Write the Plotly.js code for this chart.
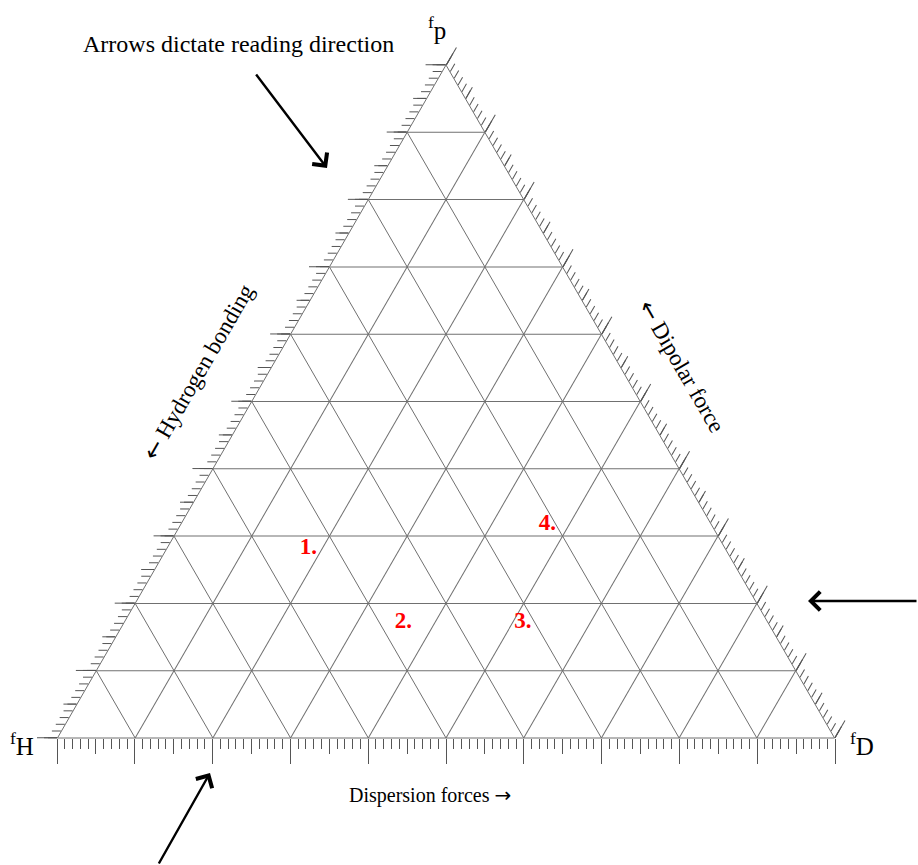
<!DOCTYPE html>
<html>
<head>
<meta charset="utf-8">
<script src="https://cdn.plot.ly/plotly-3.0.1.min.js"></script>
<style>
  html, body { margin: 0; padding: 0; background: #fff; }
  #chart { width: 918px; height: 865px; }
</style>
</head>
<body>
<div id="chart"></div>
<script>
// solvent positions on the Teas graph (percent)
const labels = ['1.', '2.', '3.', '4.'];
const fP = [28.2, 17.2, 17.2, 31.7];   // top corner
const fH = [53.6, 46.9, 31.5, 21.1];   // bottom-left corner
const fD = [18.2, 35.9, 51.3, 47.2];   // bottom-right corner

const W = 918, H = 865;
const serif = 'Liberation Serif, Times New Roman, serif';
const gridCol = '#707070';
const tickCol = '#555';

const px = x => x / W;
const py = y => 1 - y / H;

const dom = { x: [px(57), px(835)], y: [py(738), py(65)] };

function axis(dtick, len, grid, ticks) {
  return {
    title: { text: '' },
    min: 0,
    dtick: dtick,
    tick0: 0,
    ticks: ticks ? 'outside' : '',
    ticklen: len,
    tickwidth: 1,
    tickcolor: tickCol,
    showticklabels: false,
    showgrid: grid,
    gridcolor: gridCol,
    gridwidth: 1,
    showline: grid,
    linecolor: gridCol,
    linewidth: 1
  };
}

function ternary(dtick, len, grid) {
  return {
    sum: 100,
    domain: dom,
    bgcolor: 'rgba(0,0,0,0)',
    aaxis: axis(dtick, len, grid, true),
    baxis: axis(dtick, len, grid, false),
    caxis: axis(dtick, len, grid, true)
  };
}

// bottom scale drawn as a straight axis so its ticks stand upright
function bottom(dtick, len) {
  return {
    domain: dom.x, range: [0, 100], anchor: 'free', position: py(738),
    showgrid: false, zeroline: false, showline: false, showticklabels: false,
    ticks: 'outside', dtick: dtick, tick0: 0, ticklen: len,
    tickwidth: 1, tickcolor: tickCol, fixedrange: true
  };
}

const traces = [
  { type: 'scatterternary', subplot: 'ternary2', a: [], b: [], c: [], mode: 'none', showlegend: false },
  { type: 'scatterternary', subplot: 'ternary3', a: [], b: [], c: [], mode: 'none', showlegend: false },
  { type: 'scatter', xaxis: 'x', yaxis: 'y', x: [], y: [], mode: 'none', showlegend: false },
  { type: 'scatter', xaxis: 'x2', yaxis: 'y', x: [], y: [], mode: 'none', showlegend: false },
  { type: 'scatter', xaxis: 'x3', yaxis: 'y', x: [], y: [], mode: 'none', showlegend: false },
  {
    type: 'scatterternary',
    subplot: 'ternary',
    mode: 'text',
    a: fP, b: fH, c: fD,
    text: labels,
    textfont: { family: serif, size: 23, color: '#ff0000', weight: 'bold' },
    hoverinfo: 'skip',
    showlegend: false
  }
];

function note(text, x, y, angle, size) {
  return {
    xref: 'paper', yref: 'paper', x: px(x), y: py(y),
    xanchor: 'center', yanchor: 'middle',
    text: text, showarrow: false, textangle: angle,
    font: { family: serif, size: size, color: '#000' }
  };
}

function arrow(hx, hy, tx, ty) {
  return {
    xref: 'paper', yref: 'paper', x: px(hx), y: py(hy),
    ax: tx - hx, ay: ty - hy,
    text: '', showarrow: true,
    arrowhead: 4, arrowsize: 1.5, arrowwidth: 2.4, arrowcolor: '#000'
  };
}

const larr = '<span style="font-family:DejaVu Sans">\u2190</span> ';
const rarr = ' <span style="font-family:DejaVu Sans">\u2192</span>';

const layout = {
  width: W, height: H,
  margin: { l: 0, r: 0, t: 0, b: 0 },
  paper_bgcolor: '#fff',
  plot_bgcolor: 'rgba(0,0,0,0)',
  showlegend: false,
  ternary: ternary(10, 20, true),
  ternary2: ternary(5, 13, false),
  ternary3: ternary(1, 9, false),
  xaxis: bottom(10, 25),
  xaxis2: Object.assign(bottom(5, 15), { overlaying: 'x' }),
  xaxis3: Object.assign(bottom(1, 10), { overlaying: 'x' }),
  yaxis: { visible: false, range: [0, 1], fixedrange: true },
  annotations: [
    note('<sup>f</sup>p', 437, 28, 0, 25),
    note('<sup>f</sup>H', 22, 744, 0, 25),
    note('<sup>f</sup>D', 862, 744, 0, 25),
    note('Arrows dictate reading direction', 238, 44, 0, 24),
    note(larr + 'Hydrogen bonding', 198, 372, -60, 23),
    note(larr + 'Dipolar force', 682, 366, 60, 23),
    note('Dispersion forces' + rarr, 430, 795, 0, 20),
    arrow(327, 168, 255, 73),
    arrow(808, 601, 918, 601),
    arrow(210, 773, 158, 865)
  ]
};

Plotly.newPlot('chart', traces, layout, { displayModeBar: false, staticPlot: true });
</script>
</body>
</html>
